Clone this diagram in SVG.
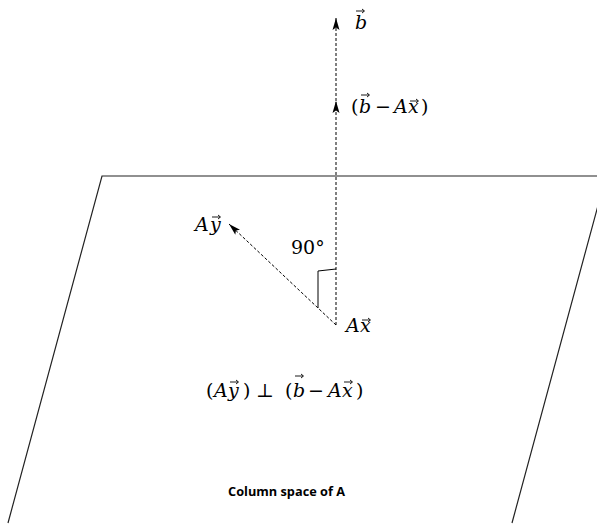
<svg xmlns="http://www.w3.org/2000/svg" width="597" height="525" viewBox="0 0 597 525">
<style>
.m{font-family:'DejaVu Serif','Liberation Serif',serif;font-size:19px;fill:#000}
.i{font-style:italic}
.d{fill:none;stroke:#000;stroke-width:1;stroke-dasharray:3,2}
.s{fill:none;stroke:#222;stroke-width:1.2}
.vec{fill:none;stroke:#000;stroke-width:0.9}
.cap{font-family:'Open Sans','Liberation Sans',sans-serif;font-weight:bold;font-size:12px;fill:#000}
</style>
<defs>
<marker id="ah" markerUnits="userSpaceOnUse" markerWidth="13" markerHeight="8" refX="12" refY="4" orient="auto">
<path d="M0,0.5 L12,4 L0,7.5 L2.5,4 z" fill="#000"/>
</marker>
<path id="va" d="M0,0 H8 M6,-2 L8.5,0 L6,2"/>
</defs>
<g id="plane">
<path class="s" d="M8,523 L102,176 L606,176 L512,523"/>
</g>
<g id="connectors">
<path class="d" d="M336,325 L336,101" marker-end="url(#ah)"/>
<path class="d" d="M336,101 L336,18" marker-end="url(#ah)"/>
<path class="d" d="M336,325 L229,224" marker-end="url(#ah)"/>
<polyline points="336,269 318,271 318,308" fill="none" stroke="#000" stroke-width="1"/>
</g>
<g id="b">
<text class="m i" x="355" y="29">b</text>
<use href="#va" class="vec" x="356" y="11"/>
</g>
<g id="b-minus-Ax">
<text class="m" y="113"><tspan x="351">(</tspan><tspan class="i" x="359">b</tspan><tspan x="375">−</tspan><tspan class="i" x="394">A</tspan><tspan class="i" x="408">x</tspan><tspan x="421">)</tspan></text>
<use href="#va" class="vec" x="361" y="95"/>
<use href="#va" class="vec" x="410" y="101"/>
</g>
<g id="Ay">
<text class="m i" y="231"><tspan x="195">A</tspan><tspan x="210">y</tspan></text>
<use href="#va" class="vec" x="212" y="217"/>
</g>
<g id="angle">
<text class="m" x="291" y="254">90°</text>
</g>
<g id="Ax">
<text class="m i" y="332"><tspan x="346">A</tspan><tspan x="360">x</tspan></text>
<use href="#va" class="vec" x="362" y="320"/>
</g>
<g id="relation">
<text class="m" y="397"><tspan x="206">(</tspan><tspan class="i" x="214">A</tspan><tspan class="i" x="228">y</tspan><tspan x="243">)</tspan><tspan x="256">⊥</tspan><tspan x="285">(</tspan><tspan class="i" x="293">b</tspan><tspan x="308">−</tspan><tspan class="i" x="328">A</tspan><tspan class="i" x="342">x</tspan><tspan x="356">)</tspan></text>
<use href="#va" class="vec" x="230" y="382"/>
<use href="#va" class="vec" x="295" y="376"/>
<use href="#va" class="vec" x="344" y="382"/>
</g>
<g id="caption">
<text class="cap" x="228" y="496" textLength="117" lengthAdjust="spacingAndGlyphs">Column space of A</text>
</g>
</svg>
